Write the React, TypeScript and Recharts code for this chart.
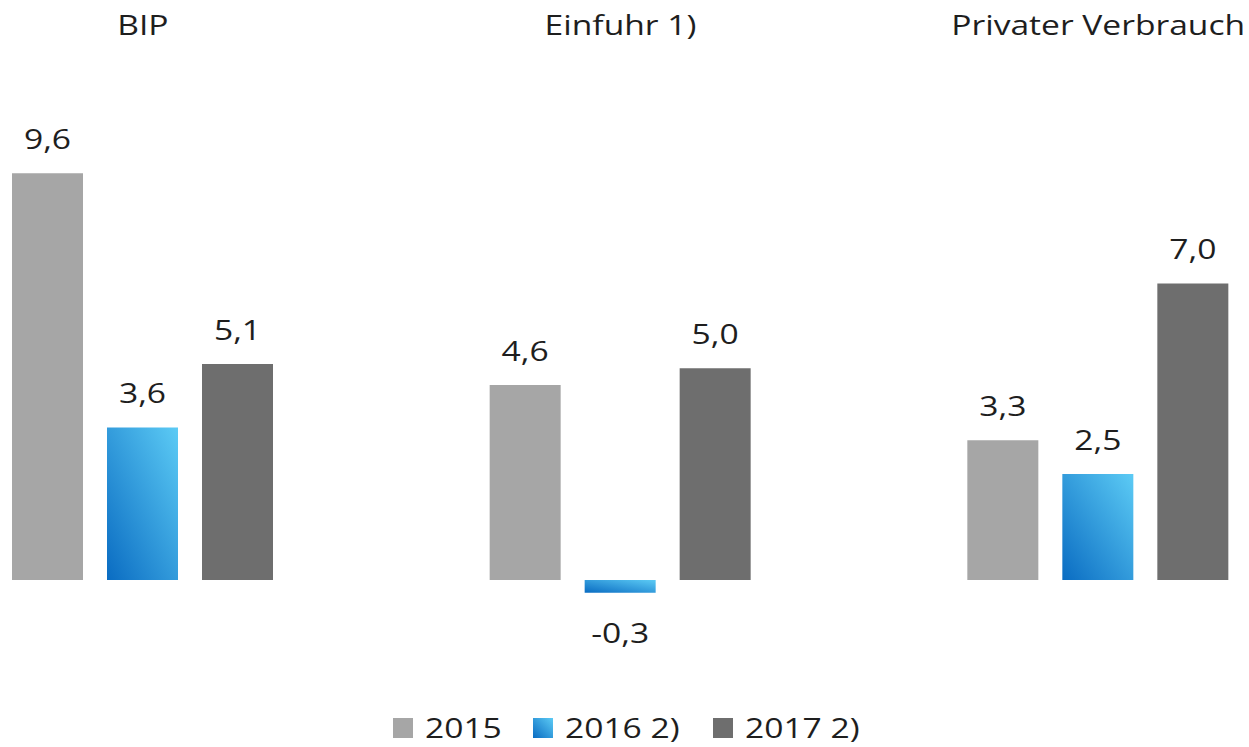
import React from "react";
import { BarChart, Bar, XAxis, YAxis, Legend, LabelList } from "recharts";

const categories = ["BIP", "Einfuhr 1)", "Privater Verbrauch"];
const values2015 = [9.6, 4.6, 3.3];
const values2016 = [3.6, -0.3, 2.5];
const values2017 = [5.1, 5.0, 7.0];
const seriesNames = ["2015", "2016 2)", "2017 2)"];

const data = categories.map((name, i) => ({
  name,
  s2015: values2015[i],
  s2016: values2016[i],
  s2017: values2017[i],
}));

const FONT = "'Open Sans', 'DejaVu Sans', sans-serif";
const TEXT = "#1e1e1e";
const GREY_LIGHT = "#a6a6a6";
const GREY_DARK = "#6e6e6e";
const SHIFT = 96; // chart starts left of the viewport so the groups line up
const STRETCH = 1.2; // source text is wider than Open Sans

const fmt = (v: number) => v.toFixed(1).replace(".", ",");

const Wide = ({ x, y, anchor, size, children }: any) => (
  <text
    transform={`translate(${x},${y}) scale(${STRETCH},1)`}
    textAnchor={anchor}
    fill={TEXT}
    fontSize={size}
    fontFamily={FONT}
  >
    {children}
  </text>
);

const ValueLabel = (props: any) => {
  const { x, y, width, height, value } = props;
  const top = Math.min(y, y + height);
  const bottom = Math.max(y, y + height);
  const ty = value >= 0 ? top - 24 : bottom + 50;
  return (
    <Wide x={x + width / 2} y={ty} anchor="middle" size={28}>
      {fmt(value)}
    </Wide>
  );
};

const TitleTick = (props: any) => {
  const { x, payload } = props;
  return (
    <Wide x={x} y={35} anchor="middle" size={28}>
      {payload.value}
    </Wide>
  );
};

const LegendBox = () => {
  const items = [
    { name: seriesNames[0], fill: GREY_LIGHT, left: 393 },
    { name: seriesNames[1], fill: "url(#blueGradLegend)", left: 533 },
    { name: seriesNames[2], fill: GREY_DARK, left: 713 },
  ];
  return (
    <svg width={1433} height={40} style={{ display: "block" }}>
      <defs>
        <linearGradient id="blueGradLegend" x1="0" y1="1" x2="1" y2="0">
          <stop offset="0%" stopColor="#0a6cc2" />
          <stop offset="100%" stopColor="#5ccbf5" />
        </linearGradient>
      </defs>
      {items.map((it) => (
        <g key={it.name}>
          <rect x={it.left + SHIFT} y={11} width={20} height={20} fill={it.fill} />
          <Wide x={it.left + SHIFT + 32} y={31} anchor="start" size={28}>
            {it.name}
          </Wide>
        </g>
      ))}
    </svg>
  );
};

export default function App() {
  return (
    <div style={{ position: "fixed", left: 0, top: 0, width: 1249, height: 747, overflow: "hidden", background: "#fff" }}>
      <div style={{ position: "absolute", left: -SHIFT, top: 0 }}>
        <BarChart
          width={1433}
          height={747}
          data={data}
          margin={{ top: 0, right: 0, bottom: 0, left: 0 }}
          barSize={71}
          barGap={24}
        >
          <defs>
            <linearGradient id="blueGrad" x1="0" y1="1" x2="1" y2="0">
              <stop offset="0%" stopColor="#0a6cc2" />
              <stop offset="100%" stopColor="#5ccbf5" />
            </linearGradient>
          </defs>
          <XAxis
            dataKey="name"
            orientation="top"
            height={114}
            axisLine={false}
            tickLine={false}
            tick={<TitleTick />}
            interval={0}
          />
          <YAxis hide domain={[-3, 11]} width={0} />
          <Legend verticalAlign="bottom" content={<LegendBox />} />
          <Bar dataKey="s2015" name={seriesNames[0]} fill={GREY_LIGHT} isAnimationActive={false}>
            <LabelList dataKey="s2015" content={<ValueLabel />} />
          </Bar>
          <Bar dataKey="s2016" name={seriesNames[1]} fill="url(#blueGrad)" isAnimationActive={false}>
            <LabelList dataKey="s2016" content={<ValueLabel />} />
          </Bar>
          <Bar dataKey="s2017" name={seriesNames[2]} fill={GREY_DARK} isAnimationActive={false}>
            <LabelList dataKey="s2017" content={<ValueLabel />} />
          </Bar>
        </BarChart>
      </div>
    </div>
  );
}
